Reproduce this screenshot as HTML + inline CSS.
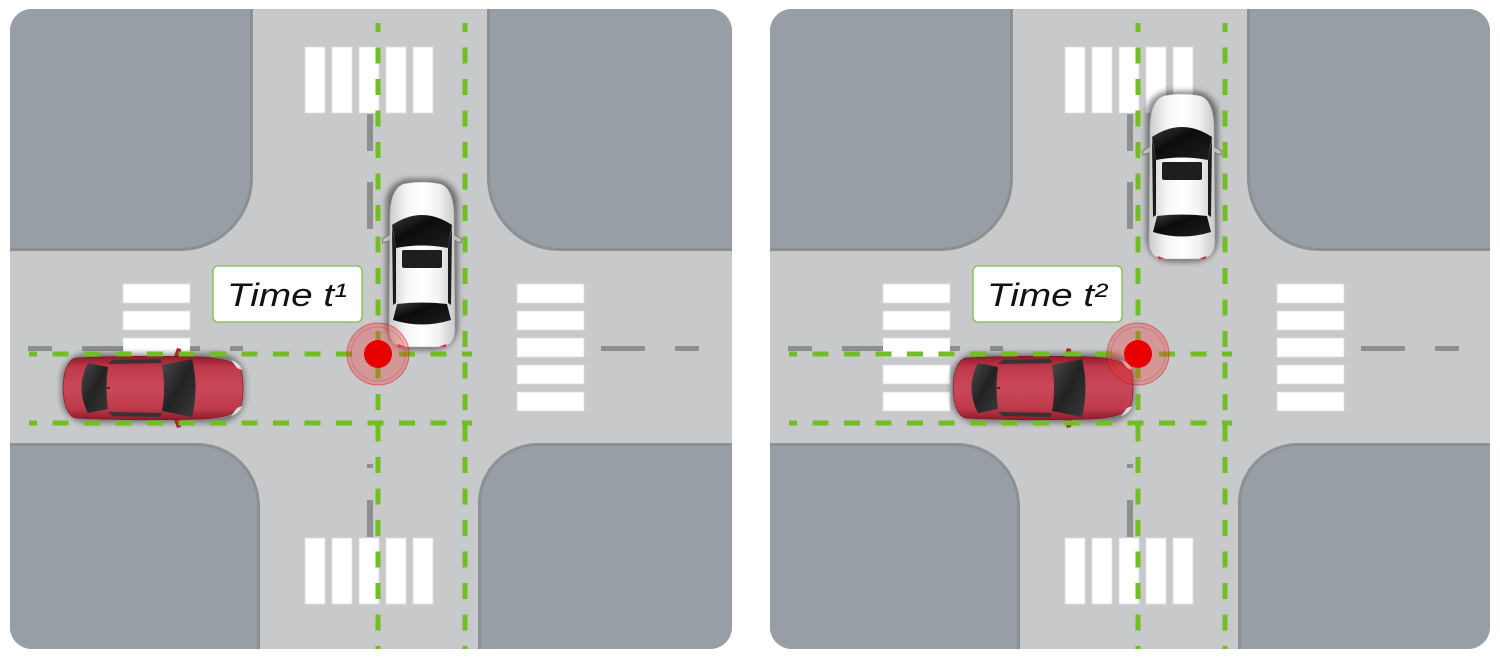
<!DOCTYPE html>
<html><head><meta charset="utf-8"><style>
html,body{margin:0;padding:0;background:#fff;}
svg{display:block;}
</style></head><body>
<svg width="1500" height="659" viewBox="0 0 1500 659" xmlns="http://www.w3.org/2000/svg">
<defs>
  <clipPath id="pc"><rect x="10" y="9" width="722" height="640" rx="22"/></clipPath>
  <clipPath id="pc2"><rect x="10" y="9" width="720" height="640" rx="22"/></clipPath>
  <linearGradient id="wbody" x1="0" x2="1" y1="0" y2="0">
    <stop offset="0" stop-color="#c9c9c9"/><stop offset=".25" stop-color="#f4f4f4"/>
    <stop offset=".5" stop-color="#ffffff"/><stop offset=".75" stop-color="#f2f2f2"/>
    <stop offset="1" stop-color="#c9c9c9"/>
  </linearGradient>
  <linearGradient id="wglass" x1="0" x2="1" y1="0" y2="1">
    <stop offset="0" stop-color="#3c3c3c"/><stop offset=".4" stop-color="#0c0c0c"/><stop offset="1" stop-color="#1e1e1e"/>
  </linearGradient>
  <linearGradient id="rbody" x1="0" x2="0" y1="0" y2="1">
    <stop offset="0" stop-color="#8e1b2a"/><stop offset=".18" stop-color="#bf3a4b"/>
    <stop offset=".5" stop-color="#c9485a"/><stop offset=".82" stop-color="#bf3a4b"/>
    <stop offset="1" stop-color="#8e1b2a"/>
  </linearGradient>
  <linearGradient id="rglass" x1="0" x2="1" y1="0" y2="1">
    <stop offset="0" stop-color="#4a4a4a"/><stop offset=".5" stop-color="#222"/><stop offset="1" stop-color="#3a3a3a"/>
  </linearGradient>
  <filter id="blur" x="-30%" y="-30%" width="160%" height="160%"><feGaussianBlur stdDeviation="3"/></filter>

  <g id="wcar">
    <rect x="-3" y="-2" width="72" height="171" rx="24" fill="#000" opacity=".45" filter="url(#blur)"/>
    <path d="M4,52 L-7,58 L-6,62 L5,58 Z" fill="#bdbdbd" stroke="#555" stroke-width=".6"/>
    <path d="M62,52 L73,58 L72,62 L61,58 Z" fill="#bdbdbd" stroke="#555" stroke-width=".6"/>
    <path d="M14,3 Q33,-1 52,3 Q64,8 65,32 L66,150 Q65,164 54,166 L12,166 Q1,164 0,150 L1,32 Q2,8 14,3 Z" fill="url(#wbody)" stroke="#aaa" stroke-width=".6"/>
    <path d="M3,44 Q33,24 63,44 L59,67 Q33,62 7,67 Z" fill="url(#wglass)"/>
    <path d="M3,46 L7,67 L7,122 L4,124 Z" fill="#1a1a1a"/>
    <path d="M63,46 L59,67 L59,122 L62,124 Z" fill="#1a1a1a"/>
    <rect x="13" y="69" width="40" height="18" rx="2" fill="#1e1e1e"/>
    <path d="M8,123 Q33,120 58,123 L62,139 Q33,148 4,139 Z" fill="url(#wglass)"/>
    <path d="M8,163 L16,165.5 L10,166 Z" fill="#c22"/>
    <path d="M58,163 L50,165.5 L56,166 Z" fill="#c22"/>
  </g>

  <g id="rcar">
    <rect x="-2" y="-3" width="184" height="70" rx="26" fill="#000" opacity=".4" filter="url(#blur)"/>
    <path d="M110,3 L114,-8 L118,-7 L119,3 Z" fill="#a52635"/>
    <path d="M110,61 L114,72 L118,71 L119,61 Z" fill="#a52635"/>
    <path d="M12,2 Q70,-1 140,1 Q172,3 178,14 Q182,32 178,50 Q172,61 140,63 Q70,65 12,62 Q1,58 0,32 Q1,6 12,2 Z" fill="url(#rbody)" stroke="#7a1522" stroke-width=".6"/>
    <path d="M25,7 Q12,32 25,57 L45,53 Q42,32 45,11 Z" fill="url(#rglass)"/>
    <path d="M99,9 Q103,32 99,55 L129,61 Q136,32 129,3 Z" fill="url(#rglass)"/>
    <path d="M45,8 L99,7 L97,3 L50,4 Z" fill="#333"/>
    <path d="M45,56 L99,57 L97,61 L50,60 Z" fill="#333"/>
    <path d="M168,4 Q177,7 179,14 L174,12 Z" fill="#ddd"/>
    <path d="M168,60 Q177,57 179,50 L174,52 Z" fill="#ddd"/>
    <rect x="44" y="31" width="3" height="1.6" fill="#222"/>
  </g>

  <g id="base">
    <rect x="0" y="0" width="742" height="659" fill="#c8c9cb"/>
    <path d="M10,9 H253 V178 A73,73 0 0 1 180,251 H10 Z" fill="#8d9093"/>
    <path d="M10,9 H250 V178 A70,70 0 0 1 180,248 H10 Z" fill="#979ea5"/>
    <path d="M487,9 H742 V251 H560 A73,73 0 0 1 487,178 Z" fill="#8d9093"/>
    <path d="M490,9 H742 V248 H560 A70,70 0 0 1 490,178 Z" fill="#979ea5"/>
    <path d="M10,443 H197 A63,63 0 0 1 260,506 V660 H10 Z" fill="#8d9093"/>
    <path d="M10,446 H197 A60,60 0 0 1 257,506 V660 H10 Z" fill="#979ea5"/>
    <path d="M478,503 A60,60 0 0 1 538,443 H742 V660 H478 Z" fill="#8d9093"/>
    <path d="M481,503 A57,57 0 0 1 538,446 H742 V660 H481 Z" fill="#979ea5"/>
    <g fill="#fff" stroke="#dedede" stroke-width=".8">
      <rect x="305" y="47" width="20" height="66"/><rect x="332" y="47" width="20" height="66"/>
      <rect x="359" y="47" width="20" height="66"/><rect x="386" y="47" width="20" height="66"/>
      <rect x="413" y="47" width="20" height="66"/>
      <rect x="305" y="538" width="20" height="66"/><rect x="332" y="538" width="20" height="66"/>
      <rect x="359" y="538" width="20" height="66"/><rect x="386" y="538" width="20" height="66"/>
      <rect x="413" y="538" width="20" height="66"/>
      <rect x="123" y="284" width="67" height="19"/><rect x="123" y="311" width="67" height="19"/>
      <rect x="123" y="338" width="67" height="19"/><rect x="123" y="365" width="67" height="19"/>
      <rect x="123" y="392" width="67" height="19"/>
      <rect x="517" y="284" width="67" height="19"/><rect x="517" y="311" width="67" height="19"/>
      <rect x="517" y="338" width="67" height="19"/><rect x="517" y="365" width="67" height="19"/>
      <rect x="517" y="392" width="67" height="19"/>
    </g>
    <g fill="#8d8e90">
      <rect x="367" y="114" width="6" height="37"/><rect x="367" y="182" width="6" height="47"/>
      <rect x="367" y="464" width="6" height="4"/><rect x="367" y="500" width="6" height="37"/>
      <rect x="28" y="346" width="24" height="5"/><rect x="82" y="346" width="41" height="5"/>
      <rect x="190" y="346" width="10" height="5"/><rect x="230" y="346" width="13" height="5"/>
      <rect x="601" y="346" width="44" height="5"/><rect x="675" y="346" width="24" height="5"/>
    </g>
  </g>

  <g id="lines" stroke="#72bd24" stroke-width="5" fill="none" stroke-dasharray="16 15.5">
    <line x1="378" y1="23" x2="378" y2="660" stroke-dashoffset="7"/>
    <line x1="465" y1="23" x2="465" y2="660" stroke-dashoffset="7"/>
    <line x1="29" y1="354" x2="472" y2="354" stroke-dashoffset="8"/>
    <line x1="29" y1="423" x2="472" y2="423" stroke-dashoffset="8"/>
  </g>

  <g id="dot">
    <circle cx="378" cy="354" r="31" fill="#e53935" fill-opacity=".35" stroke="#e00000" stroke-opacity=".45" stroke-width="1"/>
    <circle cx="378" cy="354" r="27" fill="none" stroke="#e00000" stroke-opacity=".2" stroke-width="1"/>
    <circle cx="378" cy="354" r="14" fill="#e60000"/>
  </g>
</defs>

<g clip-path="url(#pc)">
  <use href="#base"/>
  <use href="#wcar" transform="translate(389,181)"/>
  <use href="#rcar" transform="translate(63,356)"/>
  <use href="#lines"/>
  <rect x="213" y="266" width="149" height="56" rx="5" fill="#fff" stroke="#7cc142" stroke-width="1.3"/>
  <text x="227" y="306" font-family="Liberation Sans, sans-serif" font-style="italic" font-size="32" fill="#111" textLength="120" lengthAdjust="spacingAndGlyphs">Time t¹</text>
  <use href="#dot"/>
</g>

<g transform="translate(760,0)" clip-path="url(#pc2)">
  <use href="#base"/>
  <use href="#wcar" transform="translate(389,93)"/>
  <use href="#rcar" transform="translate(193,356)"/>
  <use href="#lines"/>
  <rect x="213" y="266" width="149" height="56" rx="5" fill="#fff" stroke="#7cc142" stroke-width="1.3"/>
  <text x="227" y="306" font-family="Liberation Sans, sans-serif" font-style="italic" font-size="32" fill="#111" textLength="120" lengthAdjust="spacingAndGlyphs">Time t²</text>
  <use href="#dot"/>
</g>
</svg>
</body></html>
